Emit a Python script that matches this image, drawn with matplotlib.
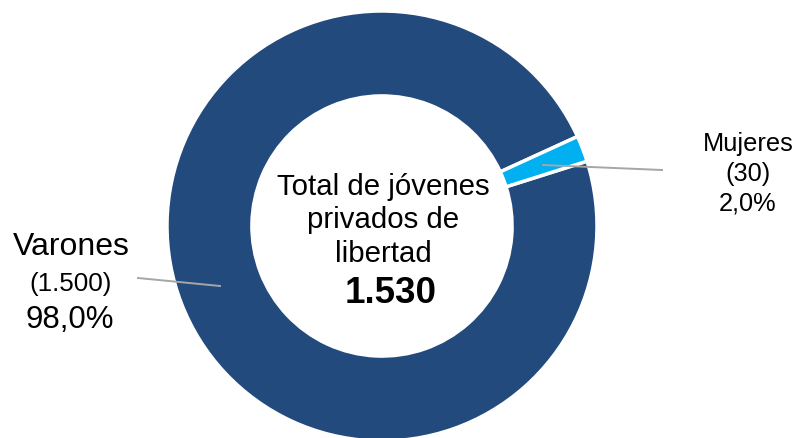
import matplotlib
matplotlib.use('Agg')
import matplotlib.pyplot as plt

# datos
categorias = ['Varones', 'Mujeres']
valores = [1500, 30]
colores = ['#224A7C', '#00B0F0']
total = sum(valores)

plt.rcParams['font.family'] = ['Liberation Sans', 'DejaVu Sans']

W, H = 797, 439
fig = plt.figure(figsize=(W / 100, H / 100), dpi=100)
ax = fig.add_axes([0, 0, 1, 1])

def py(y):
    # pixel (desde arriba) -> coordenada de datos
    return H - y

ax.pie(valores, colors=colores, startangle=24.6, counterclock=True,
       radius=215, center=(382, py(227)), frame=True,
       wedgeprops=dict(width=215 * 0.395, edgecolor='white', linewidth=2.5))
ax.set_xlim(0, W)
ax.set_ylim(0, H)
ax.set_aspect('equal')
ax.axis('off')

def fmt_num(n):
    return f'{n:,}'.replace(',', '.')

def fmt_pct(v):
    return f'{v / total * 100:.1f}%'.replace('.', ',')

# lineas guia
ax.plot([543, 662], [py(166), py(171)], color='#A6A6A6', lw=1.4)
ax.plot([220, 138], [py(287), py(279)], color='#A6A6A6', lw=1.4)

# etiqueta Varones
ax.text(71, py(255), categorias[0], ha='center', va='baseline', fontsize=23)
ax.text(71, py(291), f'({fmt_num(valores[0])})', ha='center', va='baseline', fontsize=18.7)
ax.text(70, py(328), fmt_pct(valores[0]), ha='center', va='baseline', fontsize=22.5)

# etiqueta Mujeres
ax.text(748, py(151), categorias[1], ha='center', va='baseline', fontsize=18.3)
ax.text(748, py(181), f'({fmt_num(valores[1])})', ha='center', va='baseline', fontsize=18.3)
ax.text(748, py(210), fmt_pct(valores[1]), ha='center', va='baseline', fontsize=18.3)

# texto central
for txt, y in [('Total de jóvenes', 195), ('privados de', 228), ('libertad', 262)]:
    ax.text(383, py(y), txt, ha='center', va='baseline', fontsize=21.2)
ax.text(391, py(303), fmt_num(total), ha='center', va='baseline',
        fontsize=26.5, fontweight='bold')

fig.savefig('out.png', dpi=100)
